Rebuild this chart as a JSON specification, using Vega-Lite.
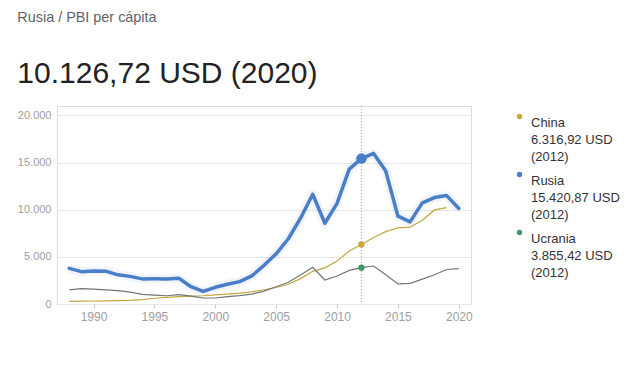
{
  "$schema": "https://vega.github.io/schema/vega-lite/v6.json",
  "width": 414,
  "height": 198,
  "padding": {"left": 17, "top": 10, "right": 5, "bottom": 5},
  "background": "white",
  "config": {"style": {"guide-label": {"lineHeight": 17}}},
  "title": {
    "text": "Rusia / PBI per cápita",
    "subtitle": "10.126,72 USD (2020)",
    "anchor": "start",
    "frame": "bounds",
    "font": "Liberation Sans",
    "fontSize": 14.4,
    "fontWeight": "normal",
    "color": "#5f6368",
    "subtitleFont": "Liberation Sans",
    "subtitleFontSize": 30,
    "subtitleColor": "#222222",
    "subtitlePadding": 33,
    "offset": 16
  },
  "datasets": {
    "series": [
      {"year": 1988, "country": "Rusia", "value": 3777},
      {"year": 1989, "country": "Rusia", "value": 3428},
      {"year": 1990, "country": "Rusia", "value": 3490},
      {"year": 1991, "country": "Rusia", "value": 3485},
      {"year": 1992, "country": "Rusia", "value": 3095},
      {"year": 1993, "country": "Rusia", "value": 2929},
      {"year": 1994, "country": "Rusia", "value": 2663},
      {"year": 1995, "country": "Rusia", "value": 2666},
      {"year": 1996, "country": "Rusia", "value": 2644},
      {"year": 1997, "country": "Rusia", "value": 2738},
      {"year": 1998, "country": "Rusia", "value": 1835},
      {"year": 1999, "country": "Rusia", "value": 1331},
      {"year": 2000, "country": "Rusia", "value": 1772},
      {"year": 2001, "country": "Rusia", "value": 2100},
      {"year": 2002, "country": "Rusia", "value": 2377},
      {"year": 2003, "country": "Rusia", "value": 2975},
      {"year": 2004, "country": "Rusia", "value": 4102},
      {"year": 2005, "country": "Rusia", "value": 5324},
      {"year": 2006, "country": "Rusia", "value": 6920},
      {"year": 2007, "country": "Rusia", "value": 9101},
      {"year": 2008, "country": "Rusia", "value": 11635},
      {"year": 2009, "country": "Rusia", "value": 8563},
      {"year": 2010, "country": "Rusia", "value": 10675},
      {"year": 2011, "country": "Rusia", "value": 14311},
      {"year": 2012, "country": "Rusia", "value": 15421},
      {"year": 2013, "country": "Rusia", "value": 15974},
      {"year": 2014, "country": "Rusia", "value": 14096},
      {"year": 2015, "country": "Rusia", "value": 9313},
      {"year": 2016, "country": "Rusia", "value": 8705},
      {"year": 2017, "country": "Rusia", "value": 10720},
      {"year": 2018, "country": "Rusia", "value": 11287},
      {"year": 2019, "country": "Rusia", "value": 11497},
      {"year": 2020, "country": "Rusia", "value": 10127},
      {"year": 1988, "country": "China", "value": 284},
      {"year": 1989, "country": "China", "value": 311},
      {"year": 1990, "country": "China", "value": 318},
      {"year": 1991, "country": "China", "value": 333},
      {"year": 1992, "country": "China", "value": 366},
      {"year": 1993, "country": "China", "value": 377},
      {"year": 1994, "country": "China", "value": 473},
      {"year": 1995, "country": "China", "value": 610},
      {"year": 1996, "country": "China", "value": 709},
      {"year": 1997, "country": "China", "value": 782},
      {"year": 1998, "country": "China", "value": 829},
      {"year": 1999, "country": "China", "value": 873},
      {"year": 2000, "country": "China", "value": 959},
      {"year": 2001, "country": "China", "value": 1053},
      {"year": 2002, "country": "China", "value": 1149},
      {"year": 2003, "country": "China", "value": 1289},
      {"year": 2004, "country": "China", "value": 1509},
      {"year": 2005, "country": "China", "value": 1753},
      {"year": 2006, "country": "China", "value": 2099},
      {"year": 2007, "country": "China", "value": 2694},
      {"year": 2008, "country": "China", "value": 3468},
      {"year": 2009, "country": "China", "value": 3832},
      {"year": 2010, "country": "China", "value": 4550},
      {"year": 2011, "country": "China", "value": 5618},
      {"year": 2012, "country": "China", "value": 6317},
      {"year": 2013, "country": "China", "value": 7051},
      {"year": 2014, "country": "China", "value": 7679},
      {"year": 2015, "country": "China", "value": 8067},
      {"year": 2016, "country": "China", "value": 8148},
      {"year": 2017, "country": "China", "value": 8879},
      {"year": 2018, "country": "China", "value": 9977},
      {"year": 2019, "country": "China", "value": 10217},
      {"year": 1988, "country": "Ucrania", "value": 1500},
      {"year": 1989, "country": "Ucrania", "value": 1630},
      {"year": 1990, "country": "Ucrania", "value": 1570},
      {"year": 1991, "country": "Ucrania", "value": 1490},
      {"year": 1992, "country": "Ucrania", "value": 1420},
      {"year": 1993, "country": "Ucrania", "value": 1260},
      {"year": 1994, "country": "Ucrania", "value": 1012},
      {"year": 1995, "country": "Ucrania", "value": 936},
      {"year": 1996, "country": "Ucrania", "value": 873},
      {"year": 1997, "country": "Ucrania", "value": 993},
      {"year": 1998, "country": "Ucrania", "value": 835},
      {"year": 1999, "country": "Ucrania", "value": 636},
      {"year": 2000, "country": "Ucrania", "value": 636},
      {"year": 2001, "country": "Ucrania", "value": 781},
      {"year": 2002, "country": "Ucrania", "value": 879},
      {"year": 2003, "country": "Ucrania", "value": 1049},
      {"year": 2004, "country": "Ucrania", "value": 1367},
      {"year": 2005, "country": "Ucrania", "value": 1829},
      {"year": 2006, "country": "Ucrania", "value": 2303},
      {"year": 2007, "country": "Ucrania", "value": 3069},
      {"year": 2008, "country": "Ucrania", "value": 3891},
      {"year": 2009, "country": "Ucrania", "value": 2546},
      {"year": 2010, "country": "Ucrania", "value": 2974},
      {"year": 2011, "country": "Ucrania", "value": 3570},
      {"year": 2012, "country": "Ucrania", "value": 3855},
      {"year": 2013, "country": "Ucrania", "value": 4030},
      {"year": 2014, "country": "Ucrania", "value": 3105},
      {"year": 2015, "country": "Ucrania", "value": 2125},
      {"year": 2016, "country": "Ucrania", "value": 2188},
      {"year": 2017, "country": "Ucrania", "value": 2640},
      {"year": 2018, "country": "Ucrania", "value": 3097},
      {"year": 2019, "country": "Ucrania", "value": 3662},
      {"year": 2020, "country": "Ucrania", "value": 3752}
    ],
    "marker": [{"year": 2012}]
  },
  "data": {"name": "series"},
  "encoding": {
    "x": {
      "field": "year",
      "type": "quantitative",
      "scale": {"domain": [1987, 2021], "nice": false, "zero": false},
      "axis": {
        "title": null,
        "values": [1990, 1995, 2000, 2005, 2010, 2015, 2020],
        "format": "d",
        "grid": false,
        "domain": false,
        "ticks": true,
        "tickSize": 4,
        "tickColor": "#cccccc",
        "labelFont": "Liberation Sans",
        "labelFontSize": 12,
        "labelColor": "#9e9e9e",
        "labelPadding": 3
      }
    },
    "y": {
      "field": "value",
      "type": "quantitative",
      "scale": {"domain": [0, 21000], "nice": false},
      "axis": {
        "title": null,
        "values": [0, 5000, 10000, 15000, 20000],
        "labelExpr": "replace(format(datum.value, ',d'), ',', '.')",
        "domain": false,
        "ticks": false,
        "grid": true,
        "gridColor": "#e6e6e6",
        "labelFont": "Liberation Sans",
        "labelFontSize": 11,
        "labelColor": "#9e9e9e",
        "labelPadding": 6
      }
    }
  },
  "layer": [
    {
      "transform": [{"filter": "datum.country == 'Rusia'"}],
      "mark": {"type": "line", "color": "#4a7ec8", "strokeWidth": 9, "opacity": 0.08, "strokeJoin": "round"}
    },
    {
      "transform": [{"filter": "datum.country == 'China'"}],
      "mark": {"type": "line", "color": "#c4a840", "strokeWidth": 1.2}
    },
    {
      "transform": [{"filter": "datum.country == 'Ucrania'"}],
      "mark": {"type": "line", "color": "#6e7a70", "strokeWidth": 1.2}
    },
    {
      "transform": [{"filter": "datum.country == 'Rusia'"}],
      "mark": {"type": "line", "color": "#4a7ec8", "strokeWidth": 3.5, "strokeJoin": "round", "strokeCap": "round"}
    },
    {
      "data": {"name": "marker"},
      "mark": {"type": "rule", "color": "#9e9e9e", "strokeDash": [1, 2], "strokeWidth": 1},
      "encoding": {"x": {"field": "year", "type": "quantitative"}, "y": null}
    },
    {
      "transform": [{"filter": "datum.year == 2012"}],
      "mark": {"type": "point", "filled": true, "opacity": 1},
      "encoding": {
        "color": {
          "field": "country",
          "type": "nominal",
          "scale": {"domain": ["China", "Rusia", "Ucrania"], "range": ["#c8a83a", "#4a7ec8", "#3f9a68"]},
          "legend": {
            "orient": "none",
            "legendX": 456,
            "legendY": 4,
            "title": null,
            "symbolType": "circle",
            "symbolSize": 28,
            "symbolStrokeWidth": 0,
            "labelFont": "Liberation Sans",
            "labelFontSize": 13,
            "labelColor": "#333333",
            "labelOffset": 5,
            "labelBaseline": "top",
            "rowPadding": 4,
            "labelExpr": "datum.label == 'China' ? ['China', '6.316,92 USD', '(2012)'] : datum.label == 'Rusia' ? ['Rusia', '15.420,87 USD', '(2012)'] : ['Ucrania', '3.855,42 USD', '(2012)']"
          }
        },
        "size": {
          "condition": {"test": "datum.country == 'Rusia'", "value": 110},
          "value": 40
        }
      }
    }
  ]
}
